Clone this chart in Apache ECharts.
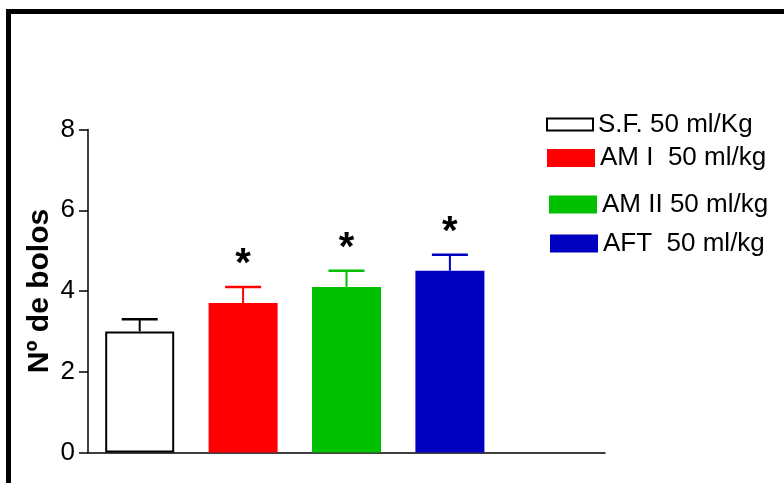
<!DOCTYPE html>
<html>
<head>
<meta charset="utf-8">
<script src="https://cdn.jsdelivr.net/npm/echarts@6/dist/echarts.min.js"></script>
<style>html,body{margin:0;padding:0;background:#fff}#c{width:784px;height:483px}</style>
</head>
<body>
<div id="c"></div>
<script>
const groups = ['S.F. 50 ml/Kg', 'AM I  50 ml/kg', 'AM II 50 ml/kg', 'AFT  50 ml/kg'];
const categories = ['', '', '', '', ''];
const means = [3.0, 3.7, 4.1, 4.5];
const errors = [0.3, 0.4, 0.4, 0.4];
const significant = [false, true, true, true];
const colors = ['#ffffff', '#ff0000', '#00c000', '#0000c0'];
const errColors = ['#000000', '#ff0000', '#00c000', '#0000c0'];
const yTicks = [0, 2, 4, 6, 8];

const FONT = '"Liberation Sans", Arial, sans-serif';

const barSeries = groups.map((g, i) => ({
  name: g,
  type: 'bar',
  barWidth: 69,
  barGap: '-100%',
  data: categories.map((c, j) => (j === i ? means[i] : '-')),
  itemStyle: i === 0 ? { color: colors[i], borderColor: '#000', borderWidth: 2 } : { color: colors[i] },
  emphasis: { disabled: true },
  animation: false
}));

const errSeries = {
  type: 'custom',
  data: means.map((m, i) => [i, m, errors[i], i]),
  renderItem: function (params, api) {
    const i = api.value(0), m = api.value(1), e = api.value(2), k = api.value(3);
    const base = api.coord([i, m]);
    const top = api.coord([i, m + e]);
    const c = errColors[k];
    const half = 18;
    const children = [
      { type: 'line', shape: { x1: base[0], y1: base[1], x2: top[0], y2: top[1] }, style: { stroke: c, lineWidth: 2 } },
      { type: 'line', shape: { x1: top[0] - half, y1: top[1], x2: top[0] + half, y2: top[1] }, style: { stroke: c, lineWidth: 2.5 } }
    ];
    if (significant[k]) {
      children.push({ type: 'text', x: top[0], y: top[1] - 22, style: { text: '*', fill: '#000', fontSize: 40, fontWeight: 'bold', fontFamily: FONT, align: 'center', verticalAlign: 'middle' } });
    }
    return { type: 'group', children: children };
  },
  z: 5,
  animation: false
};

const legendPos = [
  { left: 546, top: 111.5, w: 46, h: 12 },
  { left: 547, top: 145, w: 48, h: 18 },
  { left: 549, top: 191.5, w: 48, h: 18 },
  { left: 550, top: 230.5, w: 48, h: 18 }
];

const legends = groups.map((g, i) => ({
  data: [{ name: g, icon: 'rect', itemStyle: i === 0 ? { color: '#fff', borderColor: '#000', borderWidth: 2 } : { color: colors[i], borderWidth: 0 } }],
  left: legendPos[i].left,
  top: legendPos[i].top,
  itemWidth: legendPos[i].w,
  itemHeight: legendPos[i].h,
  itemGap: 0,
  padding: 0,
  selectedMode: false,
  textStyle: { fontSize: 26, color: '#000', fontFamily: FONT, padding: [0, 0, 0, 0] }
}));

const chart = echarts.init(document.getElementById('c'), null, { renderer: 'canvas' });
chart.setOption({
  backgroundColor: '#fff',
  animation: false,
  graphic: [{
    type: 'rect',
    shape: { x: 8.5, y: 11.5, width: 800, height: 500 },
    style: { fill: 'none', stroke: '#000', lineWidth: 5 },
    silent: true
  }],
  legend: legends,
  grid: { left: 88, top: 129.5, right: 179, bottom: 30.5, containLabel: false },
  xAxis: {
    type: 'category',
    data: categories,
    boundaryGap: true,
    axisLine: { lineStyle: { color: '#000', width: 1.5 } },
    axisTick: { show: false },
    axisLabel: { show: false }
  },
  yAxis: {
    type: 'value',
    min: yTicks[0],
    max: yTicks[yTicks.length - 1],
    interval: 2,
    name: 'Nº de bolos',
    nameLocation: 'middle',
    nameGap: 33,
    nameMoveOverlap: false,
    nameTextStyle: { fontSize: 30, fontWeight: 'bold', color: '#000', fontFamily: FONT },
    axisLine: { show: true, lineStyle: { color: '#000', width: 1.5 } },
    axisTick: { show: true, length: 9, lineStyle: { color: '#000', width: 1.5 } },
    axisLabel: { fontSize: 26, color: '#000', fontFamily: FONT, margin: 13 },
    splitLine: { show: false }
  },
  series: barSeries.concat([errSeries])
});
</script>
</body>
</html>
